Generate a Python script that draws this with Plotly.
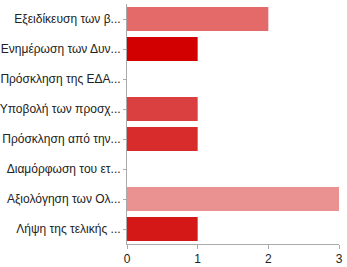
import plotly.graph_objects as go

categories = [
    "Εξειδίκευση των β...",
    "Ενημέρωση των Δυν...",
    "Πρόσκληση της ΕΔΑ...",
    "Υποβολή των προσχ...",
    "Πρόσκληση από την...",
    "Διαμόρφωση του ετ...",
    "Αξιολόγηση των Ολ...",
    "Λήψη της τελικής ...",
]
values = [2, 1, 0, 1, 1, 0, 3, 1]
colors = ["#E46A6A", "#D20000", "#DC4A4A", "#DA4040", "#D82B2B", "#D64545", "#EA9191", "#D41717"]
x_ticks = [0, 1, 2, 3]

fig = go.Figure(
    go.Bar(
        x=values,
        y=categories,
        orientation="h",
        marker=dict(color=colors, line=dict(width=0)),
        hoverinfo="skip",
    )
)

fig.update_layout(
    width=347,
    height=267,
    margin=dict(l=127, r=8, t=4, b=23),
    paper_bgcolor="white",
    plot_bgcolor="white",
    bargap=0.2,
    showlegend=False,
    font=dict(family="Liberation Sans, Arial, sans-serif", size=12, color="#222222"),
)
fig.update_xaxes(
    range=[0, 3],
    tickvals=x_ticks,
    showgrid=False,
    zeroline=False,
    showline=True,
    linecolor="#aaaaaa",
    linewidth=1,
    ticks="outside",
    ticklen=4,
    tickcolor="#aaaaaa",
    tickfont=dict(size=12, color="#222222"),
    automargin=False,
)
fig.update_yaxes(
    autorange="reversed",
    showgrid=False,
    zeroline=False,
    showline=True,
    linecolor="#aaaaaa",
    linewidth=1,
    ticks="outside",
    ticklen=3,
    tickcolor="#aaaaaa",
    tickfont=dict(size=12, color="#222222"),
    automargin=False,
)

fig.write_html("out.html")
